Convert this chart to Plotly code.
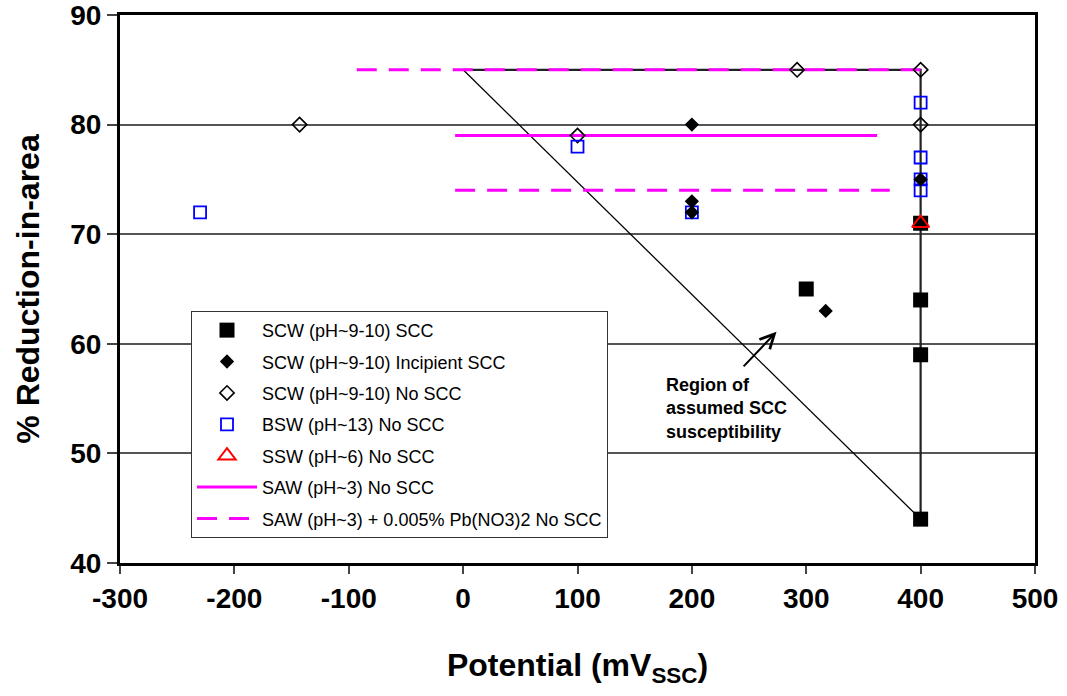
import plotly.graph_objects as go

# ---- data ----
scc_x = [300, 400, 400, 400, 400]
scc_y = [65, 71, 64, 59, 44]

inc_x = [200, 200, 200, 317, 400]
inc_y = [80, 73, 72, 63, 75]

noscc_x = [-143, 100, 292, 400, 400]
noscc_y = [80, 79, 85, 85, 80]

bsw_x = [-230, 100, 200, 400, 400, 400, 400]
bsw_y = [72, 78, 72, 82, 77, 75, 74]

ssw_x = [400]
ssw_y = [71]

saw_x = [-7, 362]
saw_y = [79, 79]

sawpb_x = [-93, 400, None, -7, 373]
sawpb_y = [85, 85, None, 74, 74]

region_frame_x = [0, 400, 400]
region_frame_y = [85, 85, 44]
region_diag_x = [0, 400]
region_diag_y = [85, 44]

arrow_tail = (244, 57.8)
arrow_head = (274, 61.1)

x_ticks = [-300, -200, -100, 0, 100, 200, 300, 400, 500]
y_ticks = [40, 50, 60, 70, 80, 90]

FONT = "Liberation Sans, Arial, sans-serif"
MAG = "#FF00FF"

fig = go.Figure()

# region-of-susceptibility outline
fig.add_trace(go.Scatter(x=region_frame_x, y=region_frame_y, mode="lines",
                         line=dict(color="#222222", width=2.2),
                         showlegend=False, hoverinfo="skip"))
fig.add_trace(go.Scatter(x=region_diag_x, y=region_diag_y, mode="lines",
                         line=dict(color="black", width=1.3),
                         showlegend=False, hoverinfo="skip"))

# SAW lines
fig.add_trace(go.Scatter(x=saw_x, y=saw_y, mode="lines",
                         name="SAW (pH~3) No SCC", legendgroup="g6", legendrank=6,
                         line=dict(color=MAG, width=3)))
fig.add_trace(go.Scatter(x=sawpb_x, y=sawpb_y, mode="lines",
                         name="SAW (pH~3) + 0.005% Pb(NO3)2 No SCC", legendgroup="g7", legendrank=7,
                         line=dict(color=MAG, width=3, dash="20px,12px")))

# markers
fig.add_trace(go.Scatter(x=scc_x, y=scc_y, mode="markers",
                         name="SCW (pH~9-10) SCC", legendgroup="g1", legendrank=1,
                         marker=dict(symbol="square", size=15, color="black",
                                     line=dict(width=0))))
fig.add_trace(go.Scatter(x=noscc_x, y=noscc_y, mode="markers",
                         name="SCW (pH~9-10) No SCC", legendgroup="g3", legendrank=3,
                         marker=dict(symbol="diamond-open", size=11, color="black",
                                     line=dict(width=1.6, color="black"))))
fig.add_trace(go.Scatter(x=bsw_x, y=bsw_y, mode="markers",
                         name="BSW (pH~13) No SCC", legendgroup="g4", legendrank=4,
                         marker=dict(symbol="square-open", size=12, color="#0000FF",
                                     line=dict(width=1.8, color="#0000FF"))))
fig.add_trace(go.Scatter(x=inc_x, y=inc_y, mode="markers",
                         name="SCW (pH~9-10) Incipient SCC", legendgroup="g2", legendrank=2,
                         marker=dict(symbol="diamond", size=11, color="black",
                                     line=dict(width=0))))
fig.add_trace(go.Scatter(x=ssw_x, y=ssw_y, mode="markers",
                         name="SSW (pH~6) No SCC", legendgroup="g5", legendrank=5,
                         marker=dict(symbol="triangle-up-open", size=15, color="#FF0000",
                                     line=dict(width=2, color="#FF0000"))))

fig.add_annotation(x=arrow_head[0], y=arrow_head[1], ax=arrow_tail[0], ay=arrow_tail[1],
                   xref="x", yref="y", axref="x", ayref="y", text="",
                   showarrow=True, arrowhead=5, arrowsize=1.4, arrowwidth=2,
                   arrowcolor="black")
fig.add_annotation(x=176, y=57.3, xref="x", yref="y", xanchor="left", yanchor="top",
                   text="<b>Region of<br>assumed SCC<br>susceptibility</b>",
                   showarrow=False, align="left",
                   font=dict(family=FONT, size=18, color="black"))

fig.update_layout(
    width=1067, height=696,
    margin=dict(l=120, r=32, t=15, b=133),
    paper_bgcolor="white", plot_bgcolor="white",
    font=dict(family=FONT, color="black"),
    legend=dict(x=0.0776, y=0.46, xanchor="left", yanchor="top",
                bgcolor="white", bordercolor="#333333", borderwidth=1,
                font=dict(family=FONT, size=18, color="black"),
                tracegroupgap=5, itemwidth=60, traceorder="grouped"),
    xaxis=dict(range=[-300.01, 500.01], tickvals=x_ticks, ticktext=[str(v) for v in x_ticks],
               showgrid=False, zeroline=False, automargin=False,
               showline=True, linecolor="black", linewidth=3, mirror=True,
               ticks="outside", ticklen=8, tickwidth=1.5, tickcolor="#444444",
               ticklabeloverflow="allow",
               tickfont=dict(family=FONT, size=28, color="black", weight="bold"),
               title=dict(text="Potential (mV<sub>SSC</sub>)",
                          font=dict(family=FONT, size=32, color="black", weight="bold"),
                          standoff=42)),
    yaxis=dict(range=[39.999, 90.001], tickvals=y_ticks, ticktext=[str(v) for v in y_ticks],
               showgrid=True, gridcolor="#555555", gridwidth=1.5, zeroline=False,
               automargin=False,
               showline=True, linecolor="black", linewidth=3, mirror=True,
               ticks="outside", ticklen=10, tickwidth=1.5, tickcolor="#444444",
               ticklabeloverflow="allow",
               tickfont=dict(family=FONT, size=28, color="black", weight="bold"),
               title=dict(text="% Reduction-in-area",
                          font=dict(family=FONT, size=32, color="black", weight="bold"),
                          standoff=22)),
)

fig.write_html("out.html")
